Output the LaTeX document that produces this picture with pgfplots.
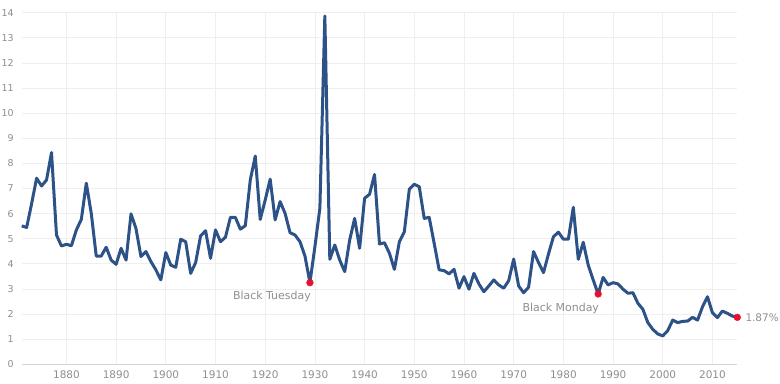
\documentclass[border=0pt]{standalone}
\usepackage{fontspec}
\setmainfont{DejaVu Sans}
\usepackage{pgfplots}
\pgfplotsset{compat=1.18}
\usepackage{pgfplotstable}
\definecolor{lineblue}{HTML}{2C5287}
\definecolor{dotred}{HTML}{E8112D}
\definecolor{lbl}{HTML}{8E8E8E}
\definecolor{gridc}{HTML}{EFEFEF}
\definecolor{basec}{HTML}{D6D6D6}

\pgfplotstableread{
year y
1871 5.51
1872 5.45
1873 6.40
1874 7.41
1875 7.10
1876 7.34
1877 8.43
1878 5.15
1879 4.71
1880 4.78
1881 4.72
1882 5.35
1883 5.77
1884 7.21
1885 6.01
1886 4.31
1887 4.31
1888 4.66
1889 4.15
1890 3.98
1891 4.62
1892 4.15
1893 5.99
1894 5.40
1895 4.29
1896 4.49
1897 4.09
1898 3.76
1899 3.36
1900 4.45
1901 3.95
1902 3.86
1903 4.98
1904 4.88
1905 3.62
1906 4.05
1907 5.11
1908 5.32
1909 4.22
1910 5.35
1911 4.88
1912 5.06
1913 5.85
1914 5.85
1915 5.38
1916 5.52
1917 7.34
1918 8.29
1919 5.77
1920 6.54
1921 7.37
1922 5.75
1923 6.48
1924 6.01
1925 5.24
1926 5.15
1927 4.88
1928 4.31
1929 3.25
1930 4.68
1931 6.21
1932 13.87
1933 4.18
1934 4.75
1935 4.15
1936 3.69
1937 4.95
1938 5.81
1939 4.62
1940 6.61
1941 6.77
1942 7.56
1943 4.79
1944 4.84
1945 4.42
1946 3.78
1947 4.88
1948 5.28
1949 6.97
1950 7.17
1951 7.07
1952 5.81
1953 5.85
1954 4.82
1955 3.76
1956 3.73
1957 3.60
1958 3.78
1959 3.03
1960 3.49
1961 2.99
1962 3.62
1963 3.20
1964 2.89
1965 3.12
1966 3.36
1967 3.16
1968 3.03
1969 3.33
1970 4.19
1971 3.12
1972 2.85
1973 3.07
1974 4.49
1975 4.05
1976 3.65
1977 4.39
1978 5.08
1979 5.26
1980 4.98
1981 4.98
1982 6.25
1983 4.18
1984 4.86
1985 3.95
1986 3.36
1987 2.80
1988 3.46
1989 3.16
1990 3.25
1991 3.20
1992 2.99
1993 2.83
1994 2.85
1995 2.43
1996 2.19
1997 1.66
1998 1.39
1999 1.21
2000 1.13
2001 1.34
2002 1.76
2003 1.66
2004 1.71
2005 1.72
2006 1.87
2007 1.76
2008 2.29
2009 2.69
2010 2.05
2011 1.86
2012 2.12
2013 2.03
2014 1.92
2015 1.87
}\yieldtable

\pgfplotstableread{
year y
1929 3.25
1987 2.80
2015 1.87
}\dottable

\begin{document}
\begin{tikzpicture}
\useasboundingbox (-21.7bp,-19.7bp) rectangle (758.3bp,364.3bp);
\begin{axis}[
  scale only axis,
  width=715.6bp, height=351.6bp,
  xmin=1871, xmax=2015, ymin=0, ymax=14,
  axis line style={draw=none},
  xtick={1880,1890,...,2010},
  ytick={0,1,...,14},
  major tick length=0pt,
  grid=major,
  major grid style={draw=gridc, line width=0.7bp},
  x tick label style={font=\fontsize{10.5}{12}\selectfont, text=lbl, yshift=-3bp},
  y tick label style={font=\fontsize{9.5}{11}\selectfont, text=lbl, xshift=-4.5bp},
  xticklabel={\pgfmathprintnumber[precision=0,fixed,1000 sep={}]{\tick}},
  /pgf/number format/assume math mode=true,
  clip=false,
]
\draw[basec, line width=0.8bp] (axis cs:1871,0) -- (axis cs:2015,0);
\addplot[lineblue, line width=3bp, line join=round, no markers] table[x=year,y=y] {\yieldtable};
\addplot[only marks, mark=*, mark size=3.4bp, mark options={fill=dotred, draw=dotred}] table[x=year,y=y] {\dottable};
\node[anchor=north east, text=lbl, font=\fontsize{11}{13}\selectfont, inner sep=0pt] at (axis cs:1929,3.25) [yshift=-8.5bp,xshift=1bp] {Black Tuesday};
\node[anchor=north east, text=lbl, font=\fontsize{11}{13}\selectfont, inner sep=0pt] at (axis cs:1987,2.80) [yshift=-8.5bp,xshift=1bp] {Black Monday};
\node[anchor=west, text=lbl, font=\fontsize{10.5}{12}\selectfont, inner sep=0pt] at (axis cs:2015,1.87) [xshift=8bp] {1.87\%};
\end{axis}
\end{tikzpicture}
\end{document}
